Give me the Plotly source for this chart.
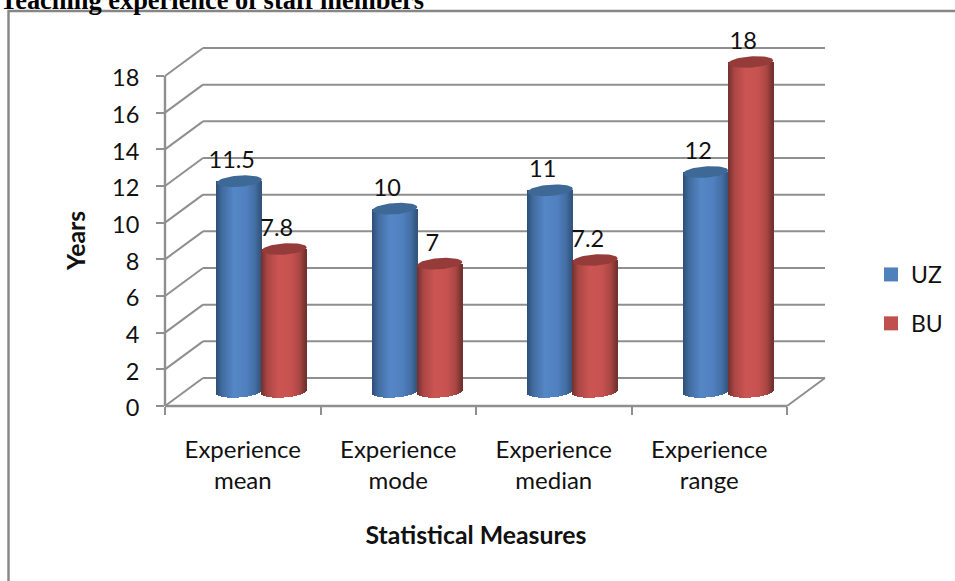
import numpy as np
import plotly.graph_objects as go

# Chart data
categories = ["Experience<br>mean", "Experience<br>mode", "Experience<br>median", "Experience<br>range"]
uz_values = [11.5, 10, 11, 12]
bu_values = [7.8, 7, 7.2, 18]
y_ticks = list(range(0, 20, 2))
series_names = ["UZ", "BU"]

# Page layout of the front plane, in pixels
W, H = 955, 581
LEFT, RIGHT, TOP, BOTTOM = 165, 787, 76, 406
PX_X = (RIGHT - LEFT) / len(categories)
PX_Y = (BOTTOM - TOP) / 18

# The value axis runs past the last tick so the tallest cylinder and its label stay in view
X_MAX = len(categories)
Y_MAX = 20.5

# Oblique projection: how far the back wall sits from the front plane
DEPTH_X = 38 / PX_X
DEPTH_Y = 28 / PX_Y

# Cylinder geometry in axis units
RADIUS = 22.5 / PX_X
CAP_B = 5.6 / PX_Y
CAP_TILT = 1.6 / PX_Y
STRIP = 1 / PX_X

GRID = "#8f8f8f"
TEXT = "#111111"
FONT = "Lato"


def shade(stops, u):
    pos = [s[0] for s in stops]
    chans = [np.interp(u, pos, [s[1][i] for s in stops]) for i in range(3)]
    return "rgb(%d,%d,%d)" % tuple(int(round(c)) for c in chans)


BLUE_STOPS = [(-1, (45, 78, 118)), (-0.72, (66, 108, 160)), (-0.2, (85, 134, 198)),
              (0.35, (80, 128, 190)), (0.72, (68, 110, 165)), (1, (50, 84, 124))]
RED_STOPS = [(-1, (112, 48, 46)), (-0.72, (170, 70, 68)), (-0.2, (204, 85, 83)),
             (0.35, (198, 82, 80)), (0.72, (168, 70, 68)), (1, (110, 48, 46))]
CAP_COLORS = ["#3e6896", "#953c3a"]


def cylinder(values, side, stops):
    """Vertical 1px bands forming the body of each cylinder, plus the cap outlines."""
    xs, bases, heights, colors, caps = [], [], [], [], []
    for i, v in enumerate(values):
        cx = i + 0.5 + DEPTH_X / 2 + side * RADIUS
        floor = DEPTH_Y / 2
        n = int(round(2 * RADIUS / STRIP))
        for k in range(n):
            u = -1 + (2 * k + 1) / n
            bottom = floor - CAP_B * np.sqrt(1 - u * u) + CAP_TILT * u
            xs.append(cx + u * RADIUS)
            bases.append(bottom)
            heights.append(floor + v - bottom)
            colors.append(shade(stops, u))
        t = np.linspace(0, 2 * np.pi, 60)
        caps.append((cx + RADIUS * np.cos(t),
                     floor + v + CAP_B * np.sin(t) + CAP_TILT * np.cos(t)))
    return xs, bases, heights, colors, caps


fig = go.Figure()

for idx, (name, values, stops) in enumerate(zip(series_names, [uz_values, bu_values], [BLUE_STOPS, RED_STOPS])):
    side = -1 if idx == 0 else 1
    xs, bases, heights, colors, caps = cylinder(values, side, stops)
    fig.add_trace(go.Bar(x=xs, y=heights, base=bases, width=STRIP, marker=dict(color=colors, line_width=0),
                         showlegend=False, hoverinfo="skip"))

# Cylinder caps and value labels sit above the bodies
for idx, values in enumerate([uz_values, bu_values]):
    side = -1 if idx == 0 else 1
    *_, caps = cylinder(values, side, BLUE_STOPS)
    for cap_x, cap_y in caps:
        fig.add_trace(go.Scatter(x=cap_x, y=cap_y, mode="lines", fill="toself", fillcolor=CAP_COLORS[idx],
                                 line=dict(width=0), showlegend=False, hoverinfo="skip"))

for idx, values in enumerate([uz_values, bu_values]):
    side = -1 if idx == 0 else 1
    fig.add_trace(go.Scatter(
        x=[i + 0.5 + DEPTH_X / 2 + side * RADIUS - 7.5 / PX_X for i in range(len(values))],
        y=[v + DEPTH_Y / 2 + 19 / PX_Y for v in values],
        mode="text", text=[str(v) for v in values], textposition="middle center",
        textfont=dict(family=FONT, size=23.5, color=TEXT),
        showlegend=False, hoverinfo="skip"))

# Legend entries
for name, color in zip(series_names, ["#4f81bd", "#c0504d"]):
    fig.add_trace(go.Scatter(x=[None], y=[None], mode="markers", name=name, legendgroup=name,
                             marker=dict(symbol="square", size=14, color=color)))

# Walls and floor of the 3D frame; domain references let them extend beyond the axes box
shapes = []


def seg(x0, y0, x1, y1, width=2):
    shapes.append(dict(type="line", xref="x domain", yref="y domain", layer="below",
                       x0=x0 / X_MAX, x1=x1 / X_MAX, y0=y0 / Y_MAX, y1=y1 / Y_MAX,
                       line=dict(color=GRID, width=width)))


for v in y_ticks:
    seg(0, v, DEPTH_X, v + DEPTH_Y)
    seg(DEPTH_X, v + DEPTH_Y, len(categories) + DEPTH_X, v + DEPTH_Y)
seg(len(categories), 0, len(categories) + DEPTH_X, DEPTH_Y)

# Front axis lines stop at the last tick rather than at the end of the range
seg(0, 0, 0, y_ticks[-1], width=2.4)
seg(0, 0, len(categories), 0, width=2.4)

# Outer frame of the chart area, running off the page on the right and bottom
shapes.append(dict(type="rect", xref="paper", yref="paper", layer="below",
                   x0=8.5 / W, x1=1.02, y0=-0.02, y1=1 - 11 / H,
                   line=dict(color="#868686", width=2.4), fillcolor="rgba(0,0,0,0)"))

fig.update_layout(
    width=W, height=H, margin=dict(l=0, r=0, t=0, b=0),
    paper_bgcolor="white", plot_bgcolor="rgba(0,0,0,0)",
    barmode="overlay", bargap=0, shapes=shapes,
    font=dict(family=FONT, color=TEXT),
    xaxis=dict(
        domain=[LEFT / W, RIGHT / W], range=[0, X_MAX], automargin=False,
        tickvals=[i + 0.5 for i in range(len(categories))], ticktext=categories,
        ticks="", tickfont=dict(size=24), ticklabelstandoff=27,
        showline=False, showgrid=False, zeroline=False,
        minor=dict(tickvals=list(range(len(categories) + 1)), ticks="outside", ticklen=8,
                   tickcolor=GRID, tickwidth=2, showgrid=False),
        title=dict(text="<b>Statistical Measures</b>", font=dict(size=24.8), standoff=33),
    ),
    yaxis=dict(
        domain=[1 - BOTTOM / H, 1 - (BOTTOM - Y_MAX * PX_Y) / H], range=[0, Y_MAX], automargin=False,
        tickvals=y_ticks, ticks="outside", ticklen=8, tickcolor=GRID, tickwidth=2,
        tickfont=dict(size=23.5), ticklabelstandoff=12, ticklabelshift=2,
        showline=False, showgrid=False, zeroline=False,
    ),
    legend=dict(x=871 / W, y=1 - 253 / H, xanchor="left", yanchor="top", font=dict(size=23),
                tracegroupgap=16, traceorder="grouped", bgcolor="rgba(0,0,0,0)"),
    annotations=[
        dict(text="<b>Teaching experience of staff members</b>", xref="paper", yref="paper",
             x=-2 / W, y=1 - 17 / H, xanchor="left", yanchor="bottom", showarrow=False,
             font=dict(family="Liberation Serif", size=26.4, color="#000000")),
        # Value-axis title, centred on the ticked part of the axis
        dict(text="<b>Years</b>", xref="paper", yref="y", x=76 / W, y=y_ticks[-1] / 2, textangle=-90,
             xanchor="center", yanchor="middle", showarrow=False, font=dict(size=24.8, color=TEXT)),
    ],
)

fig.write_html("out.html")
